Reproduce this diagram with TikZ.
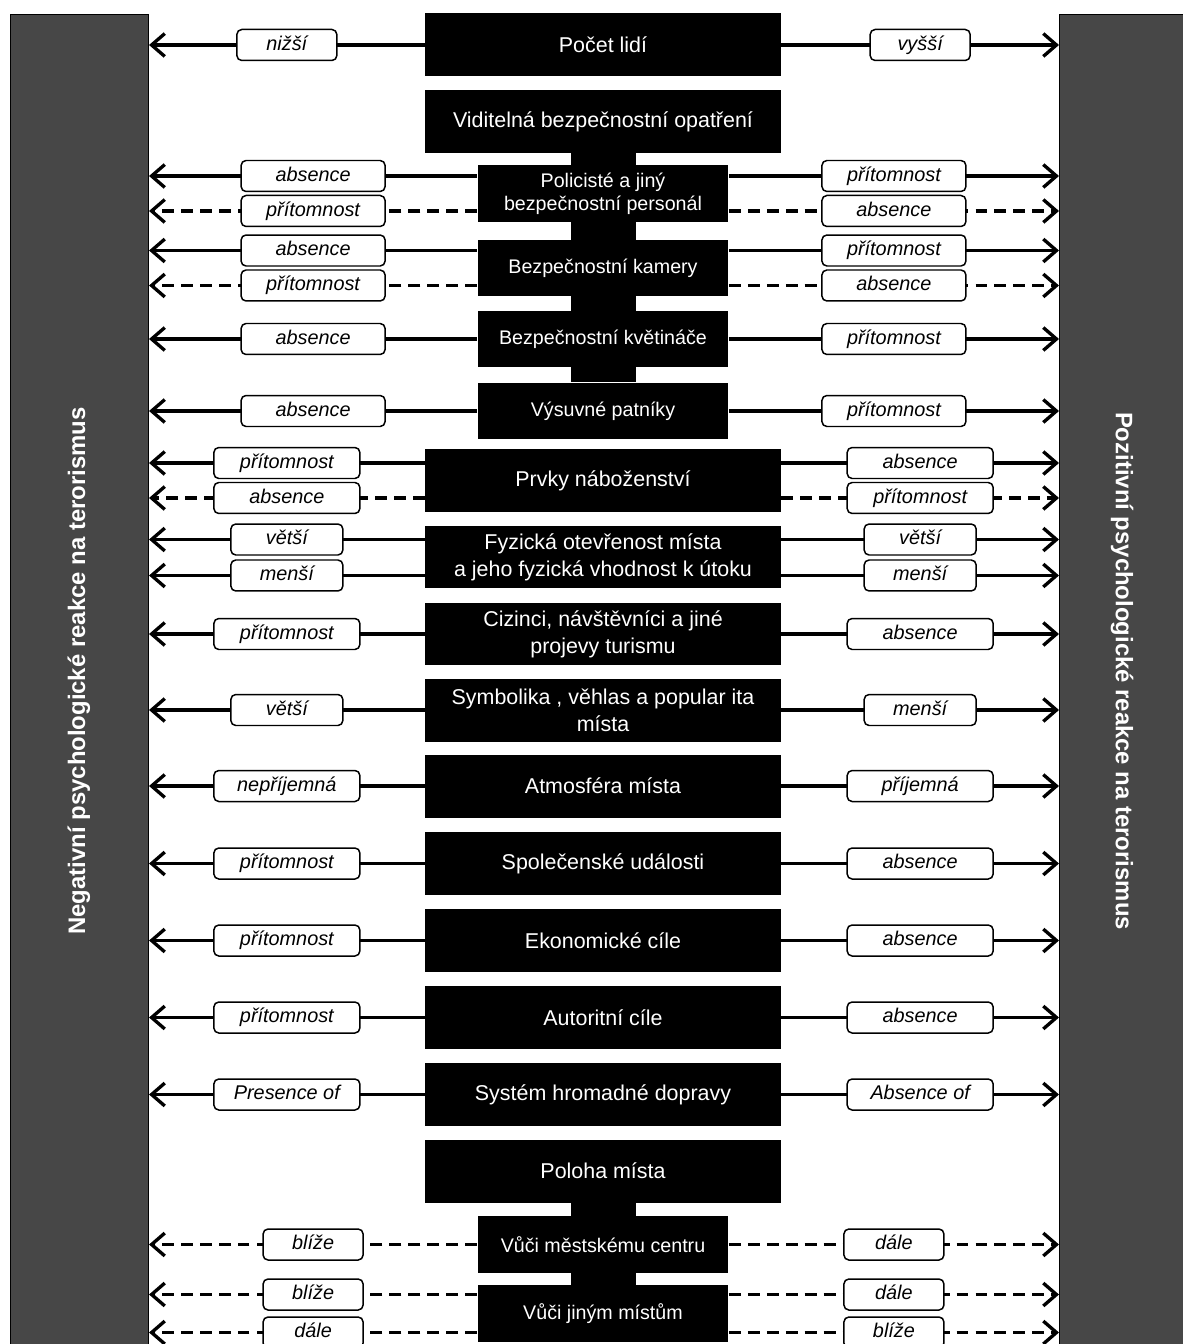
\documentclass[tikz,border=0pt]{standalone}
\usepackage{fontspec}
\setmainfont{Liberation Sans}
\usetikzlibrary{arrows.meta, backgrounds}

\tikzset{
	faktor/.style={fill=black, text=white, inner sep=0pt, align=center,
		minimum width=7.12cm, minimum height=1.26cm,
		font=\fontsize{12.2}{15.4}\selectfont},
	podfaktor/.style={faktor, minimum width=5.02cm, minimum height=1.14cm,
		font=\fontsize{11.2}{13.2}\selectfont},
	stitek/.style={draw, solid, fill=white, line width=0.85pt, rounded corners=2.8pt,
		inner sep=0pt, minimum height=0.62cm, text height=8.4pt, text depth=2.4pt,
		font=\fontsize{11.3}{13}\selectfont\itshape},
	sipka/.style={line width=1.9pt, -{Straight Barb[length=7.5pt,width=13pt]}},
	carky/.style={sipka, dash pattern=on 6.8pt off 4pt},
	reakce/.style={fill=black!72, draw=black, line width=0.6pt, inner sep=0pt},
	reakcetext/.style={text=white, font=\fontsize{13.6}{16}\selectfont\bfseries}
}

\begin{document}
\begin{tikzpicture}[x=0.02cm, y=-0.02cm]
	\useasboundingbox (0,0) rectangle (1182,1344);
	% postranni sloupce
	\node[reakce, minimum width=2.76cm, minimum height=26.8cm, anchor=north west] (neg) at (10,14) {};
	\node[reakce, minimum width=2.48cm, minimum height=26.8cm, anchor=north west] (poz) at (1059,14) {};
	\node[reakcetext, rotate=90] (negtext) at (79,671) {Negativní psychologické reakce na terorismus};
	\node[reakcetext, rotate=-90] (poztext) at (1122,671) {Pozitivní psychologické reakce na terorismus};

	% faktory
	\node[faktor] (pocet) at (603,45) {Počet lidí};
	\node[faktor] (vidit) at (603,121.5) {Viditelná bezpečnostní opatření};
	\node[podfaktor] (polic) at (603,193.5) {Policisté a jiný\\bezpečnostní personál};
	\node[podfaktor] (kamer) at (603,268) {Bezpečnostní kamery};
	\node[podfaktor] (kvetin) at (603,339) {Bezpečnostní květináče};
	\node[podfaktor] (patnik) at (603,411) {Výsuvné patníky};
	\node[faktor] (nabozen) at (603,480.5) {Prvky náboženství};
	\node[faktor] (otevren) at (603,557) {Fyzická otevřenost místa\\a jeho fyzická vhodnost k útoku};
	\node[faktor] (cizinci) at (603,634) {Cizinci, návštěvníci a jiné\\projevy turismu};
	\node[faktor] (symbol) at (603,710) {Symbolika , věhlas a popular ita\\místa};
	\node[faktor] (atmosf) at (603,786) {Atmosféra místa};
	\node[faktor] (udalost) at (603,863.5) {Společenské události};
	\node[faktor] (ekonom) at (603,940.5) {Ekonomické cíle};
	\node[faktor] (autor) at (603,1017.5) {Autoritní cíle};
	\node[faktor] (doprava) at (603,1094.5) {Systém hromadné dopravy};
	\node[faktor] (poloha) at (603,1171) {Poloha místa};
	\node[podfaktor] (centrum) at (603,1244.5) {Vůči městskému centru};
	\node[podfaktor] (mista) at (603,1313.5) {Vůči jiným místům};
	\begin{scope}[on background layer]
		\fill ([xshift=-0.65cm]vidit.south) rectangle ([xshift=0.65cm]patnik.north);
		\fill ([xshift=-0.65cm]poloha.south) rectangle ([xshift=0.65cm]mista.north);
	\end{scope}

	% sipky
	\draw[sipka] (pocet.west) -- node[stitek, minimum width=2cm] {nižší} (pocet.west -| neg.east);
	\draw[sipka] (pocet.east) -- node[stitek, minimum width=2cm] {vyšší} (pocet.east -| poz.west);

	\foreach \uzel/\stav/\opak in {polic/absence/přítomnost, kamer/absence/přítomnost}{
		\draw[sipka] ([yshift=.35cm]\uzel.west) -- node[stitek, minimum width=2.88cm] {\stav} ([yshift=.35cm]\uzel.west -| neg.east);
		\draw[carky] ([yshift=-.35cm]\uzel.west) -- node[stitek, minimum width=2.88cm] {\opak} ([yshift=-.35cm]\uzel.west -| neg.east);
		\draw[sipka] ([yshift=.35cm]\uzel.east) -- node[stitek, minimum width=2.88cm] {\opak} ([yshift=.35cm]\uzel.east -| poz.west);
		\draw[carky] ([yshift=-.35cm]\uzel.east) -- node[stitek, minimum width=2.88cm] {\stav} ([yshift=-.35cm]\uzel.east -| poz.west);
	}
	\foreach \uzel in {kvetin, patnik}{
		\draw[sipka] (\uzel.west) -- node[stitek, minimum width=2.88cm] {absence} (\uzel.west -| neg.east);
		\draw[sipka] (\uzel.east) -- node[stitek, minimum width=2.88cm] {přítomnost} (\uzel.east -| poz.west);
	}

	\draw[sipka] ([yshift=.35cm]nabozen.west) -- node[stitek, minimum width=2.92cm] {přítomnost} ([yshift=.35cm]nabozen.west -| neg.east);
	\draw[carky] ([yshift=-.35cm]nabozen.west) -- node[stitek, minimum width=2.92cm] {absence} ([yshift=-.35cm]nabozen.west -| neg.east);
	\draw[sipka] ([yshift=.35cm]nabozen.east) -- node[stitek, minimum width=2.92cm] {absence} ([yshift=.35cm]nabozen.east -| poz.west);
	\draw[carky] ([yshift=-.35cm]nabozen.east) -- node[stitek, minimum width=2.92cm] {přítomnost} ([yshift=-.35cm]nabozen.east -| poz.west);

	\draw[sipka] ([yshift=.35cm]otevren.west) -- node[stitek, minimum width=2.24cm] {větší} ([yshift=.35cm]otevren.west -| neg.east);
	\draw[sipka] ([yshift=-.37cm]otevren.west) -- node[stitek, minimum width=2.24cm] {menší} ([yshift=-.37cm]otevren.west -| neg.east);
	\draw[sipka] ([yshift=.35cm]otevren.east) -- node[stitek, minimum width=2.24cm] {větší} ([yshift=.35cm]otevren.east -| poz.west);
	\draw[sipka] ([yshift=-.37cm]otevren.east) -- node[stitek, minimum width=2.24cm] {menší} ([yshift=-.37cm]otevren.east -| poz.west);

	\draw[sipka] (symbol.west) -- node[stitek, minimum width=2.24cm] {větší} (symbol.west -| neg.east);
	\draw[sipka] (symbol.east) -- node[stitek, minimum width=2.24cm] {menší} (symbol.east -| poz.west);

	\foreach \uzel/\levy/\pravy in {cizinci/přítomnost/absence, atmosf/nepříjemná/příjemná,
		udalost/přítomnost/absence, ekonom/přítomnost/absence, autor/přítomnost/absence,
		doprava/Presence of/Absence of}{
		\draw[sipka] (\uzel.west) -- node[stitek, minimum width=2.92cm] {\levy} (\uzel.west -| neg.east);
		\draw[sipka] (\uzel.east) -- node[stitek, minimum width=2.92cm] {\pravy} (\uzel.east -| poz.west);
	}

	% poloha
	\draw[carky] (centrum.west) -- node[stitek, minimum width=2cm] {blíže} (centrum.west -| neg.east);
	\draw[carky] (centrum.east) -- node[stitek, minimum width=2cm] {dále} (centrum.east -| poz.west);
	\draw[carky] ([yshift=.38cm]mista.west) -- node[stitek, minimum width=2cm] {blíže} ([yshift=.38cm]mista.west -| neg.east);
	\draw[carky] ([yshift=-.38cm]mista.west) -- node[stitek, minimum width=2cm] {dále} ([yshift=-.38cm]mista.west -| neg.east);
	\draw[carky] ([yshift=.38cm]mista.east) -- node[stitek, minimum width=2cm] {dále} ([yshift=.38cm]mista.east -| poz.west);
	\draw[carky] ([yshift=-.38cm]mista.east) -- node[stitek, minimum width=2cm] {blíže} ([yshift=-.38cm]mista.east -| poz.west);
\end{tikzpicture}
\end{document}
